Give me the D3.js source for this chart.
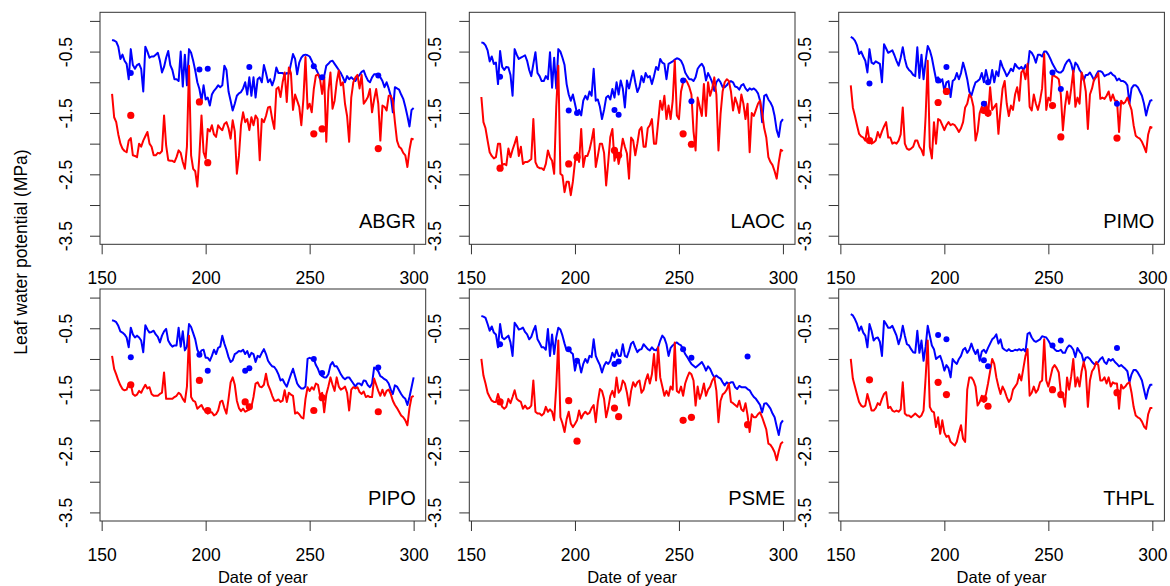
<!DOCTYPE html>
<html>
<head>
<meta charset="utf-8">
<script src="https://cdn.jsdelivr.net/npm/d3@7"></script>
<style>
  body { margin: 0; background: #fff; }
  text { font-family: Arial, "Liberation Sans", sans-serif; fill: #000; }
</style>
</head>
<body>
<script>
// day of year for the modelled series, 155..300
var days = d3.range(155, 301);
// days with measured leaf water potential
var sampleDays = [164, 197, 201, 219, 221, 252, 256, 283];

var xTicks = [150, 200, 250, 300];
var yTicks = [0, -0.5, -1, -1.5, -2, -2.5, -3, -3.5];
var yLabelled = [-0.5, -1.5, -2.5, -3.5];

// ---- ABGR ----
var abgrPredawn = [
  -0.31,-0.32,-0.34,-0.42,-0.62,-0.55,-0.65,-0.70,-0.95,-0.46,
  -0.72,-0.78,-0.72,-0.70,-0.78,-1.15,-0.42,-0.50,-0.60,-0.58,
  -0.58,-0.55,-0.52,-0.65,-0.84,-0.75,-0.60,-0.49,-0.72,-0.80,
  -0.95,-0.95,-0.98,-0.50,-1.07,-0.55,-1.05,-0.46,-0.52,-0.65,
  -0.81,-1.00,-1.11,-1.30,-1.05,-1.28,-1.25,-1.38,-1.20,-1.14,
  -1.10,-1.05,-1.08,-1.05,-0.73,-0.80,-1.15,-1.30,-1.46,-1.35,
  -1.22,-1.18,-1.16,-1.10,-1.00,-1.20,-0.92,-1.22,-0.92,-1.25,
  -0.95,-0.92,-1.00,-0.72,-0.85,-1.00,-0.95,-1.05,-0.95,-0.76,
  -0.85,-0.85,-0.85,-0.88,-0.85,-0.86,-0.70,-0.54,-0.62,-0.87,
  -0.68,-0.60,-0.56,-0.55,-0.56,-0.58,-0.65,-0.73,-0.78,-0.85,
  -0.92,-0.95,-0.90,-0.73,-0.70,-0.66,-0.65,-0.70,-0.75,-0.80,
  -0.85,-0.92,-1.00,-0.90,-0.95,-0.92,-0.95,-0.98,-0.92,-0.88,
  -0.83,-0.81,-0.90,-0.97,-1.00,-0.92,-0.87,-0.87,-0.88,-0.92,
  -0.98,-1.08,-1.00,-1.10,-1.22,-1.49,-1.08,-1.10,-1.12,-1.20,
  -1.27,-1.40,-1.55,-1.72,-1.45,-1.42
];
var abgrMidday = [
  -1.19,-1.57,-1.65,-1.85,-2.00,-2.08,-2.12,-2.14,-1.95,-1.91,
  -2.19,-2.20,-2.22,-2.00,-2.05,-1.95,-1.88,-1.81,-2.00,-2.05,
  -2.19,-2.19,-2.15,-2.16,-2.12,-1.54,-2.03,-2.27,-2.28,-2.28,
  -2.30,-2.22,-2.11,-2.15,-2.30,-2.41,-2.05,-0.73,-2.19,-2.41,
  -2.45,-2.70,-2.19,-1.54,-2.14,-2.24,-1.76,-1.80,-1.70,-1.85,
  -1.89,-1.70,-1.75,-1.78,-1.68,-1.65,-1.75,-1.92,-1.62,-1.80,
  -2.49,-2.20,-1.70,-1.49,-1.65,-1.60,-1.78,-1.57,-1.70,-1.54,
  -1.60,-2.27,-1.60,-1.65,-1.55,-1.41,-1.40,-1.60,-1.76,-1.11,
  -1.08,-1.24,-1.00,-0.84,-1.32,-0.76,-0.85,-1.45,-1.20,-1.30,
  -1.40,-1.70,-1.27,-0.59,-1.43,-1.35,-1.49,-1.11,-0.89,-0.87,
  -0.95,-1.19,-0.90,-1.97,-1.15,-0.84,-1.43,-1.30,-1.00,-0.81,
  -1.05,-1.00,-1.35,-1.55,-1.97,-1.25,-1.00,-0.92,-0.88,-1.10,
  -0.88,-1.35,-1.30,-1.24,-1.11,-1.49,-1.28,-1.11,-1.35,-1.95,
  -1.38,-1.40,-1.46,-1.22,-1.22,-1.30,-1.65,-1.95,-2.05,-2.08,
  -2.15,-2.19,-2.38,-2.10,-1.92,-1.93
];
var abgrPredawnObs = [-0.85, -0.79, -0.78, null, -0.75, -0.74, -0.92, -0.89];
var abgrMiddayObs = [-1.54, -1.32, -2.31, null, null, -1.84, -1.76, -2.08];

// ---- LAOC ----
var laocPredawn = [
  -0.35,-0.36,-0.40,-0.48,-0.66,-0.58,-0.70,-0.68,-1.03,-0.49,
  -0.75,-0.80,-0.75,-0.76,-0.88,-1.22,-0.46,-0.55,-0.62,-0.60,
  -0.58,-0.56,-0.65,-0.80,-0.90,-0.70,-0.51,-0.85,-0.90,-0.98,
  -0.98,-0.90,-0.95,-0.51,-1.09,-0.60,-1.10,-0.46,-0.50,-0.60,
  -0.72,-1.03,-1.20,-1.30,-1.20,-1.35,-1.51,-1.45,-1.54,-1.30,
  -1.22,-1.28,-1.15,-1.22,-0.78,-1.30,-1.28,-1.40,-1.60,-1.45,
  -1.25,-1.22,-1.28,-1.11,-1.25,-1.00,-1.20,-0.97,-1.10,-1.41,
  -0.97,-1.10,-0.95,-0.81,-1.00,-1.16,-1.08,-0.90,-1.00,-0.85,
  -0.92,-0.90,-1.03,-0.90,-0.75,-0.80,-0.62,-0.68,-0.70,-0.95,
  -0.70,-0.68,-0.66,-0.63,-0.61,-0.62,-0.65,-0.72,-0.84,-0.90,
  -0.95,-0.95,-0.98,-0.92,-0.78,-0.73,-0.70,-0.76,-0.97,-0.85,
  -0.92,-1.00,-1.14,-1.00,-0.95,-1.00,-1.08,-1.08,-1.05,-1.00,
  -0.98,-1.00,-1.07,-1.08,-1.12,-1.05,-1.03,-1.10,-1.14,-1.10,
  -1.12,-1.10,-1.13,-1.18,-1.30,-1.65,-1.22,-1.20,-1.28,-1.33,
  -1.40,-1.55,-1.78,-1.89,-1.65,-1.60
];
var laocMidday = [
  -1.24,-1.65,-1.75,-1.95,-2.14,-2.20,-2.24,-2.22,-2.00,-2.00,
  -2.35,-2.33,-2.35,-2.08,-2.22,-2.10,-2.00,-1.89,-2.20,-2.05,
  -2.33,-2.30,-2.30,-2.28,-2.25,-1.60,-2.30,-2.38,-2.40,-2.40,
  -2.43,-2.33,-2.11,-2.22,-2.28,-2.49,-1.40,-0.73,-2.49,-2.52,
  -2.79,-2.62,-2.62,-2.84,-2.62,-2.30,-2.15,-2.30,-1.76,-2.38,
  -2.20,-2.20,-2.10,-1.95,-1.76,-2.38,-2.20,-2.00,-2.00,-2.15,
  -2.68,-2.30,-1.89,-1.76,-2.28,-2.10,-2.33,-2.15,-1.92,-2.05,
  -2.16,-2.57,-1.90,-1.95,-2.19,-2.00,-1.78,-1.73,-2.05,-2.05,
  -1.75,-1.70,-1.60,-2.00,-2.00,-1.65,-1.30,-1.45,-1.22,-1.60,
  -1.38,-1.60,-1.30,-0.65,-1.54,-1.60,-1.15,-1.00,-0.95,-1.00,
  -1.08,-1.20,-1.80,-2.11,-1.25,-1.40,-1.55,-1.03,-1.55,-1.00,
  -1.22,-1.10,-0.92,-1.20,-2.11,-1.52,-1.15,-1.00,-0.95,-0.98,
  -1.15,-1.46,-1.25,-1.35,-1.50,-1.20,-1.35,-1.60,-1.35,-2.14,
  -1.50,-1.55,-1.45,-1.35,-1.30,-1.50,-1.75,-1.90,-2.22,-2.30,
  -2.35,-2.45,-2.57,-2.30,-2.10,-2.12
];
var laocPredawnObs = [-0.91, -1.46, -1.50, -1.45, -1.53, -0.97, -1.31, null];
var laocMiddayObs = [-2.40, -2.33, -2.22, -2.11, -2.19, -1.84, -2.01, null];

// ---- PIMO ----
var pimoPredawn = [
  -0.26,-0.28,-0.32,-0.40,-0.54,-0.50,-0.58,-0.65,-0.84,-0.46,
  -0.68,-0.70,-0.66,-0.68,-0.70,-1.00,-0.38,-0.45,-0.52,-0.50,
  -0.48,-0.56,-0.65,-0.73,-0.60,-0.43,-0.62,-0.75,-0.80,-0.83,
  -0.88,-0.90,-0.43,-0.93,-0.55,-0.95,-0.65,-0.41,-0.48,-0.60,
  -0.78,-0.95,-0.92,-1.00,-0.95,-1.14,-1.00,-0.98,-1.24,-0.98,
  -0.95,-0.85,-0.95,-0.85,-0.68,-0.80,-0.95,-1.15,-1.22,-1.10,
  -1.00,-0.98,-0.95,-0.85,-1.00,-0.80,-0.95,-1.00,-0.80,-1.00,
  -0.82,-0.90,-0.65,-0.75,-0.82,-0.90,-0.85,-0.78,-0.82,-0.70,
  -0.75,-0.78,-0.75,-0.80,-0.72,-0.80,-0.49,-0.52,-0.58,-0.68,
  -0.55,-0.55,-0.58,-0.50,-0.50,-0.55,-0.62,-0.70,-0.76,-0.82,
  -0.84,-0.84,-0.81,-0.72,-0.66,-0.63,-0.70,-0.84,-0.68,-0.72,
  -0.80,-0.85,-0.97,-0.88,-0.88,-0.84,-0.90,-0.97,-0.88,-0.82,
  -0.82,-0.84,-0.90,-0.88,-0.87,-0.84,-0.88,-0.90,-0.97,-0.94,
  -0.98,-0.98,-1.00,-1.05,-1.35,-1.10,-1.05,-1.05,-1.08,-1.15,
  -1.22,-1.35,-1.54,-1.40,-1.30,-1.29
];
var pimoMidday = [
  -1.05,-1.41,-1.55,-1.70,-1.84,-1.88,-1.90,-1.95,-1.73,-1.95,
  -2.00,-1.98,-1.95,-1.81,-1.90,-1.80,-1.72,-1.65,-1.90,-1.90,
  -2.00,-1.98,-2.00,-1.95,-1.85,-1.41,-2.00,-2.08,-2.10,-2.08,
  -2.05,-1.95,-1.95,-2.05,-2.10,-2.19,-1.55,-0.65,-2.05,-2.24,
  -1.65,-2.00,-1.60,-1.62,-1.70,-1.78,-1.70,-1.65,-1.70,-1.68,
  -1.70,-1.75,-1.81,-1.75,-1.65,-1.41,-1.35,-1.20,-1.25,-1.40,
  -1.95,-1.80,-1.50,-1.40,-1.50,-1.32,-1.55,-1.08,-1.45,-1.40,
  -1.35,-1.84,-1.45,-1.10,-0.98,-1.35,-1.55,-1.38,-1.45,-1.20,
  -1.08,-1.30,-0.84,-0.80,-0.95,-0.70,-1.40,-1.46,-1.20,-1.35,
  -1.45,-1.30,-1.10,-0.54,-1.45,-1.25,-1.30,-0.87,-0.90,-0.92,
  -0.95,-1.20,-1.78,-1.40,-1.15,-1.35,-1.10,-0.81,-1.40,-1.25,
  -1.35,-0.84,-0.95,-1.15,-1.76,-1.20,-1.10,-0.95,-0.92,-0.85,
  -1.27,-1.25,-1.27,-1.22,-1.15,-1.30,-1.20,-1.30,-1.30,-1.81,
  -1.30,-1.35,-1.32,-1.25,-1.35,-1.45,-1.70,-1.87,-1.90,-1.92,
  -1.97,-2.05,-2.14,-1.85,-1.73,-1.74
];
var pimoPredawnObs = [-1.02, -0.97, -0.75, -1.35, -1.00, -0.84, -1.11, -1.35];
var pimoMiddayObs = [-1.95, -1.33, -1.15, -1.46, -1.50, -1.38, -1.89, -1.91];

// ---- PIPO ----
var pipoPredawn = [
  -0.37,-0.38,-0.40,-0.46,-0.55,-0.57,-0.60,-0.65,-0.81,-0.49,
  -0.60,-0.65,-0.62,-0.65,-0.70,-0.89,-0.45,-0.52,-0.57,-0.56,
  -0.54,-0.60,-0.64,-0.73,-0.62,-0.55,-0.51,-0.70,-0.76,-0.80,
  -0.78,-0.78,-0.49,-0.80,-0.55,-0.86,-0.80,-0.43,-0.48,-0.58,
  -0.68,-0.85,-0.92,-0.86,-0.85,-0.98,-0.98,-1.03,-0.95,-0.85,
  -0.92,-0.82,-0.80,-0.62,-0.75,-0.85,-0.97,-1.05,-1.02,-0.92,
  -0.90,-0.87,-0.88,-0.85,-0.92,-0.87,-0.97,-0.90,-0.92,-1.05,
  -0.95,-0.97,-0.90,-0.84,-0.92,-1.03,-1.08,-1.12,-1.13,-1.18,
  -1.25,-1.35,-1.33,-1.40,-1.45,-1.35,-1.25,-1.16,-1.28,-1.40,
  -1.45,-1.48,-1.48,-1.45,-1.00,-0.98,-1.00,-1.00,-1.10,-1.16,
  -1.25,-1.28,-1.30,-1.30,-1.25,-1.10,-1.05,-1.12,-1.12,-1.18,
  -1.25,-1.30,-1.33,-1.30,-1.30,-1.35,-1.40,-1.45,-1.40,-1.40,
  -1.43,-1.35,-1.36,-1.43,-1.46,-1.40,-1.14,-1.16,-1.20,-1.28,
  -1.30,-1.33,-1.35,-1.40,-1.50,-1.57,-1.43,-1.45,-1.51,-1.57,
  -1.62,-1.65,-1.75,-1.62,-1.46,-1.30
];
var pipoMidday = [
  -0.95,-1.16,-1.25,-1.35,-1.43,-1.49,-1.51,-1.50,-1.41,-1.41,
  -1.57,-1.60,-1.58,-1.52,-1.55,-1.48,-1.42,-1.48,-1.46,-1.57,
  -1.60,-1.60,-1.60,-1.57,-1.55,-1.22,-1.65,-1.65,-1.65,-1.65,
  -1.62,-1.60,-1.55,-1.58,-1.65,-1.70,-1.45,-0.62,-1.62,-1.68,
  -1.70,-1.81,-1.78,-1.75,-1.82,-1.85,-1.89,-1.87,-1.87,-1.92,
  -1.90,-1.84,-1.70,-1.68,-1.80,-1.89,-1.65,-1.38,-1.30,-1.42,
  -1.68,-1.80,-1.85,-1.81,-1.86,-1.84,-1.82,-1.78,-1.62,-1.40,
  -1.38,-1.45,-1.46,-1.42,-1.24,-1.42,-1.50,-1.60,-1.68,-1.68,
  -1.66,-1.70,-1.68,-1.51,-1.70,-1.55,-1.58,-1.60,-1.89,-1.87,
  -1.90,-1.95,-1.97,-1.65,-1.46,-1.52,-1.46,-1.50,-1.40,-1.42,
  -1.60,-1.55,-1.87,-1.58,-1.45,-1.30,-1.42,-1.52,-1.30,-1.45,
  -1.50,-1.48,-1.45,-1.55,-1.84,-1.50,-1.46,-1.48,-1.46,-1.54,
  -1.57,-1.53,-1.62,-1.60,-1.62,-1.62,-1.32,-1.42,-1.52,-1.60,
  -1.50,-1.60,-1.52,-1.50,-1.57,-1.68,-1.75,-1.80,-1.86,-1.92,
  -1.95,-2.00,-2.08,-1.80,-1.62,-1.60
];
var pipoPredawnObs = [-0.97, -0.93, -1.19, -1.19, -1.15, -1.00, -1.23, -1.14];
var pipoMiddayObs = [-1.42, -1.35, -1.84, -1.70, -1.78, -1.84, -1.63, -1.86];

// ---- PSME ----
var psmePredawn = [
  -0.30,-0.31,-0.33,-0.43,-0.54,-0.47,-0.57,-0.60,-0.81,-0.43,
  -0.65,-0.68,-0.65,-0.62,-0.73,-0.95,-0.41,-0.46,-0.52,-0.51,
  -0.49,-0.56,-0.60,-0.68,-0.64,-0.54,-0.46,-0.68,-0.74,-0.81,
  -0.81,-0.85,-0.51,-0.95,-0.60,-0.92,-0.65,-0.49,-0.52,-0.62,
  -0.75,-0.86,-0.83,-0.89,-0.92,-1.19,-1.03,-1.06,-1.22,-1.08,
  -1.00,-1.06,-0.95,-0.97,-0.68,-0.95,-1.03,-1.10,-1.22,-1.11,
  -1.05,-1.08,-1.03,-0.90,-0.97,-0.85,-0.95,-0.95,-0.76,-0.95,
  -0.97,-0.87,-0.75,-0.72,-0.81,-0.89,-0.85,-0.84,-0.76,-0.80,
  -0.84,-0.86,-0.81,-0.85,-0.86,-0.81,-0.70,-0.62,-0.66,-0.76,
  -0.95,-0.82,-0.78,-0.75,-0.73,-0.76,-0.78,-0.84,-0.92,-0.97,
  -1.03,-1.08,-1.11,-1.14,-1.11,-1.08,-1.05,-1.11,-1.19,-1.12,
  -1.16,-1.24,-1.30,-1.27,-1.30,-1.32,-1.38,-1.43,-1.38,-1.40,
  -1.38,-1.38,-1.46,-1.49,-1.44,-1.46,-1.46,-1.46,-1.49,-1.51,
  -1.57,-1.62,-1.65,-1.70,-1.75,-1.87,-1.73,-1.72,-1.76,-1.81,
  -1.89,-1.95,-2.10,-2.24,-2.05,-2.00
];
var psmeMidday = [
  -1.00,-1.27,-1.40,-1.55,-1.62,-1.68,-1.70,-1.70,-1.57,-1.68,
  -1.78,-1.81,-1.78,-1.65,-1.72,-1.62,-1.51,-1.65,-1.68,-1.70,
  -1.81,-1.76,-1.81,-1.80,-1.76,-1.35,-1.86,-1.89,-1.89,-1.92,
  -1.89,-1.78,-1.86,-1.82,-1.86,-2.00,-1.45,-0.70,-1.95,-2.05,
  -2.19,-1.98,-1.86,-2.05,-2.11,-2.06,-2.00,-1.84,-1.97,-1.90,
  -1.86,-1.90,-1.88,-1.80,-1.75,-2.03,-1.70,-1.49,-1.52,-1.65,
  -1.95,-1.80,-1.60,-1.52,-1.62,-1.30,-1.55,-1.50,-1.35,-1.40,
  -1.55,-1.76,-1.52,-1.38,-1.45,-1.38,-1.35,-1.55,-1.50,-1.35,
  -1.25,-1.40,-1.25,-0.92,-1.35,-0.81,-1.30,-1.45,-1.60,-1.52,
  -1.60,-1.45,-1.50,-0.73,-1.52,-1.55,-1.45,-1.60,-1.40,-1.30,
  -1.22,-1.25,-1.35,-1.76,-1.45,-1.65,-1.55,-1.40,-1.60,-1.50,
  -1.45,-1.35,-1.30,-1.52,-2.03,-1.68,-1.58,-1.55,-1.50,-1.40,
  -1.70,-1.72,-1.75,-1.78,-1.68,-1.82,-1.85,-1.72,-1.92,-2.19,
  -1.90,-1.95,-1.95,-1.90,-1.87,-1.95,-2.05,-2.15,-2.38,-2.40,
  -2.45,-2.52,-2.65,-2.50,-2.38,-2.35
];
var psmePredawnObs = [-0.76, -0.84, -1.03, -1.08, -1.04, -0.84, -0.98, -0.96];
var psmeMiddayObs = [-1.70, -1.68, -2.34, -1.80, -1.94, -2.00, -1.95, -2.07];

// ---- THPL ----
var thplPredawn = [
  -0.27,-0.29,-0.35,-0.43,-0.54,-0.47,-0.57,-0.62,-0.81,-0.43,
  -0.54,-0.70,-0.66,-0.65,-0.72,-0.95,-0.38,-0.43,-0.49,-0.49,
  -0.46,-0.54,-0.62,-0.76,-0.65,-0.46,-0.62,-0.76,-0.78,-0.84,
  -0.89,-0.90,-0.54,-0.90,-0.70,-1.03,-0.80,-0.46,-0.62,-0.78,
  -0.84,-1.00,-0.97,-0.95,-1.05,-1.19,-1.10,-1.15,-1.30,-1.00,
  -1.05,-1.08,-1.00,-0.95,-0.85,-0.82,-0.90,-0.85,-0.75,-0.85,
  -0.92,-0.85,-1.03,-0.88,-0.85,-0.90,-0.82,-0.75,-0.68,-0.65,
  -0.60,-0.75,-0.68,-0.82,-0.85,-0.87,-0.84,-0.87,-0.87,-0.85,
  -0.86,-0.84,-0.86,-0.84,-0.88,-0.59,-0.57,-0.65,-0.70,-0.72,
  -0.70,-0.68,-0.63,-0.64,-0.65,-0.70,-0.76,-0.80,-0.84,-0.87,
  -0.87,-0.85,-0.90,-0.90,-0.82,-0.78,-0.80,-0.85,-0.97,-0.82,
  -0.88,-0.92,-1.05,-0.98,-0.97,-1.00,-1.05,-1.08,-1.08,-1.05,
  -1.00,-0.97,-1.05,-1.08,-1.00,-1.03,-1.00,-1.05,-1.08,-1.12,
  -1.10,-1.13,-1.16,-1.20,-1.38,-1.25,-1.18,-1.18,-1.22,-1.28,
  -1.35,-1.50,-1.65,-1.50,-1.42,-1.42
];
var thplMidday = [
  -1.00,-1.32,-1.45,-1.58,-1.70,-1.76,-1.78,-1.76,-1.57,-1.70,
  -1.84,-1.84,-1.80,-1.72,-1.75,-1.65,-1.57,-1.54,-1.80,-1.78,
  -1.84,-1.86,-1.84,-1.86,-1.82,-1.38,-1.89,-1.92,-1.92,-1.95,
  -1.92,-1.89,-1.92,-1.95,-1.92,-1.84,-1.30,-0.70,-1.78,-1.85,
  -1.87,-2.11,-1.95,-2.22,-2.00,-2.20,-2.27,-2.25,-2.35,-2.38,
  -2.41,-2.35,-2.20,-2.08,-2.30,-2.35,-1.50,-1.30,-1.30,-1.35,
  -1.45,-1.76,-1.70,-1.60,-1.70,-1.57,-1.40,-1.20,-1.00,-1.08,
  -1.30,-1.45,-1.57,-1.45,-1.52,-1.62,-1.70,-1.65,-1.50,-1.45,
  -1.40,-1.25,-1.35,-1.15,-0.95,-0.84,-1.60,-1.55,-1.45,-1.55,
  -1.50,-1.38,-1.35,-0.68,-1.35,-1.45,-1.30,-1.15,-1.10,-1.15,
  -1.22,-1.55,-1.60,-1.78,-1.30,-1.50,-1.28,-1.00,-1.45,-1.30,
  -1.45,-1.20,-1.05,-1.20,-1.78,-1.35,-1.20,-1.15,-1.05,-1.10,
  -1.35,-1.35,-1.30,-1.40,-1.30,-1.45,-1.38,-1.40,-1.40,-1.81,
  -1.42,-1.48,-1.45,-1.40,-1.38,-1.55,-1.78,-1.92,-1.95,-1.97,
  -2.02,-2.10,-2.14,-1.90,-1.80,-1.80
];
var thplPredawnObs = [null, -0.61, -0.68, -1.02, -1.12, -0.78, -0.70, -0.82];
var thplMiddayObs = [-1.34, -1.38, -1.58, -1.65, -1.77, -1.50, -1.58, -1.55];

var panels = [
  { name: "ABGR", predawn: abgrPredawn, midday: abgrMidday, predawnObs: abgrPredawnObs, middayObs: abgrMiddayObs },
  { name: "LAOC", predawn: laocPredawn, midday: laocMidday, predawnObs: laocPredawnObs, middayObs: laocMiddayObs },
  { name: "PIMO", predawn: pimoPredawn, midday: pimoMidday, predawnObs: pimoPredawnObs, middayObs: pimoMiddayObs },
  { name: "PIPO", predawn: pipoPredawn, midday: pipoMidday, predawnObs: pipoPredawnObs, middayObs: pipoMiddayObs },
  { name: "PSME", predawn: psmePredawn, midday: psmeMidday, predawnObs: psmePredawnObs, middayObs: psmeMiddayObs },
  { name: "THPL", predawn: thplPredawn, midday: thplMidday, predawnObs: thplPredawnObs, middayObs: thplMiddayObs }
];

var W = 1170, H = 586;
var plotW = 325.7, plotH = 232;
var lefts = [100, 469.3, 838.7];
var tops = [12.3, 289];
var labelSize = "17.5px";

var svg = d3.select("body").append("svg")
  .attr("width", W)
  .attr("height", H);

var x = d3.scaleLinear().domain([149.2, 305.8]).range([0, plotW]);
var y = d3.scaleLinear().domain([-3.64, 0.14]).range([plotH, 0]);

var line = d3.line()
  .x(function (d) { return x(d[0]); })
  .y(function (d) { return y(d[1]); });

/**
 * Draw one species panel
 * @param p panel record
 * @param i index, row-major
 */
function drawPanel(p, i) {
  var col = i % 3, row = Math.floor(i / 3);
  var g = svg.append("g")
    .attr("transform", "translate(" + lefts[col] + "," + tops[row] + ")");

  // y axis, labels turned parallel to the axis, plain hyphen minus like R
  var yAxis = g.append("g")
    .call(d3.axisLeft(y).tickValues(yTicks).tickSize(10)
      .tickFormat(function (d) { return yLabelled.indexOf(d) >= 0 ? d.toFixed(1) : ""; }));
  yAxis.select(".domain").remove();
  yAxis.selectAll("line").attr("stroke", "#333");
  yAxis.selectAll("text")
    .attr("x", null).attr("dy", null)
    .attr("transform", "translate(-34,0) rotate(-90)")
    .attr("text-anchor", "middle")
    .attr("dominant-baseline", "central")
    .style("font-size", labelSize)
    .style("font-family", "Arial, 'Liberation Sans', sans-serif");

  // x axis
  var xAxis = g.append("g")
    .attr("transform", "translate(0," + plotH + ")")
    .call(d3.axisBottom(x).tickValues(xTicks).tickSize(10).tickFormat(d3.format("d")));
  xAxis.select(".domain").remove();
  xAxis.selectAll("line").attr("stroke", "#333");
  xAxis.selectAll("text")
    .attr("y", 33.5).attr("dy", "0.35em")
    .style("font-size", labelSize)
    .style("font-family", "Arial, 'Liberation Sans', sans-serif");

  var pre = days.map(function (d, k) { return [d, p.predawn[k]]; });
  var mid = days.map(function (d, k) { return [d, p.midday[k]]; });

  g.append("path").datum(pre)
    .attr("d", line).attr("fill", "none")
    .attr("stroke", "#0000ff").attr("stroke-width", 2).attr("stroke-linejoin", "round");
  g.append("path").datum(mid)
    .attr("d", line).attr("fill", "none")
    .attr("stroke", "#ff0000").attr("stroke-width", 2).attr("stroke-linejoin", "round");

  var preObs = sampleDays.map(function (d, k) { return [d, p.predawnObs[k]]; })
    .filter(function (d) { return d[1] !== null; });
  var midObs = sampleDays.map(function (d, k) { return [d, p.middayObs[k]]; })
    .filter(function (d) { return d[1] !== null; });

  g.selectAll(".pre-obs").data(preObs).enter().append("circle")
    .attr("cx", function (d) { return x(d[0]); })
    .attr("cy", function (d) { return y(d[1]); })
    .attr("r", 3).attr("fill", "#0000ff");
  g.selectAll(".mid-obs").data(midObs).enter().append("circle")
    .attr("cx", function (d) { return x(d[0]); })
    .attr("cy", function (d) { return y(d[1]); })
    .attr("r", 3.6).attr("fill", "#ff0000");

  // frame
  g.append("rect")
    .attr("width", plotW).attr("height", plotH)
    .attr("fill", "none").attr("stroke", "#333").attr("stroke-width", 1);

  g.append("text")
    .attr("x", plotW - 10).attr("y", plotH - 16.5)
    .attr("text-anchor", "end")
    .style("font-size", "20px")
    .text(p.name);

  if (row === 1) {
    g.append("text")
      .attr("x", plotW / 2).attr("y", plotH + 55.5)
      .attr("text-anchor", "middle")
      .attr("dominant-baseline", "central")
      .style("font-size", "16.5px")
      .text("Date of year");
  }
}

panels.forEach(drawPanel);

svg.append("text")
  .attr("transform", "translate(27,252) rotate(-90)")
  .attr("text-anchor", "middle")
  .style("font-size", "17.5px")
  .text("Leaf water potential (MPa)");
</script>
</body>
</html>
